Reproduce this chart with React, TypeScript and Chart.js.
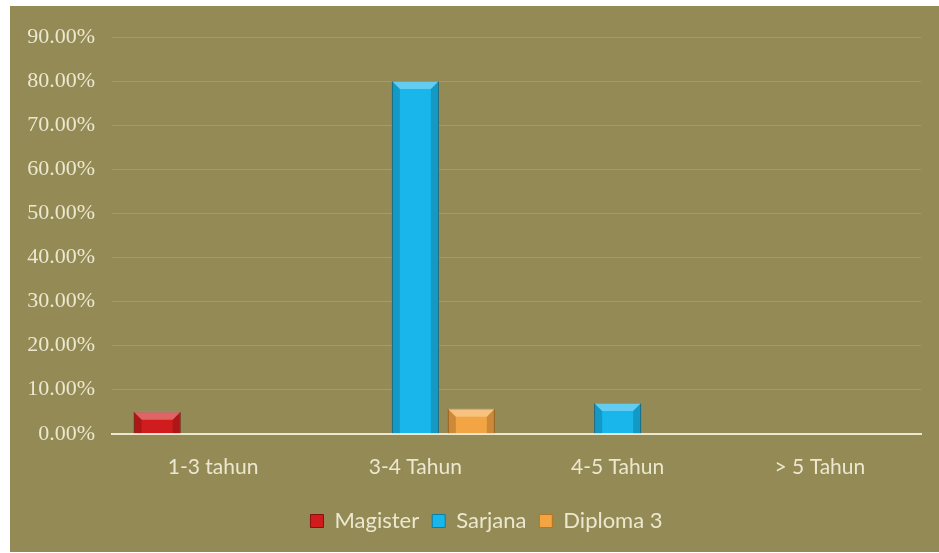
import React, { useEffect, useRef } from "react";
import { Chart, registerables } from "chart.js";

Chart.register(...registerables);

const categories = ["1-3 tahun", "3-4 Tahun", "4-5 Tahun", "> 5 Tahun"];
const magister = [5.0, null, null, null];
const sarjana = [null, 80.0, 7.0, null];
const diploma3 = [null, 5.7, null, null];
const yTicks = [0, 10, 20, 30, 40, 50, 60, 70, 80, 90];

const BG = "#938a55";
const TEXT = "#ece8cf";

const bevelPlugin = {
  id: "bevel",
  afterDatasetsDraw(chart: any) {
    const ctx = chart.ctx;
    chart.data.datasets.forEach((ds: any, i: number) => {
      const meta = chart.getDatasetMeta(i);
      meta.data.forEach((bar: any, j: number) => {
        if (ds.data[j] == null) return;
        const { x, y, base, width } = bar.getProps(["x", "y", "base", "width"], true);
        const l = x - width / 2, r = x + width / 2;
        const h = base - y;
        const b = Math.min(8, h / 2);
        ctx.save();
        ctx.fillStyle = "rgba(255,255,255,0.32)";
        ctx.beginPath();
        ctx.moveTo(l, y); ctx.lineTo(r, y); ctx.lineTo(r - b, y + b); ctx.lineTo(l + b, y + b); ctx.closePath();
        ctx.fill();
        ctx.fillStyle = "rgba(0,0,0,0.16)";
        ctx.beginPath();
        ctx.moveTo(l, y); ctx.lineTo(l + b, y + b); ctx.lineTo(l + b, base); ctx.lineTo(l, base); ctx.closePath();
        ctx.fill();
        ctx.beginPath();
        ctx.moveTo(r, y); ctx.lineTo(r - b, y + b); ctx.lineTo(r - b, base); ctx.lineTo(r, base); ctx.closePath();
        ctx.fill();
        ctx.restore();
      });
    });
  },
};

const legendShift = {
  id: "legendShift",
  afterLayout(chart: any) {
    const lg = chart.legend;
    if (!lg) return;
    lg.left += 21; lg.right += 21;
    lg.top -= 4; lg.bottom -= 4;
  },
};

export default function App() {
  const ref = useRef<HTMLCanvasElement | null>(null);
  useEffect(() => {
    if (!ref.current) return;
    const chart = new Chart(ref.current, {
      type: "bar",
      data: {
        labels: categories,
        datasets: [
          { label: "Magister", data: magister, backgroundColor: "#d01c1c", borderColor: "#8a0f0f", borderWidth: 1 },
          { label: "Sarjana", data: sarjana, backgroundColor: "#18b6ea", borderColor: "#0d7da6", borderWidth: 1 },
          { label: "Diploma 3", data: diploma3, backgroundColor: "#f3a443", borderColor: "#b8741f", borderWidth: 1 },
        ],
      },
      plugins: [bevelPlugin, legendShift],
      options: {
        animation: false,
        responsive: false,
        maintainAspectRatio: false,
        layout: { padding: { top: 31, right: 18, left: 0, bottom: 6 } },
        datasets: { bar: { categoryPercentage: 0.83, barPercentage: 0.84, skipNull: false } },
        plugins: {
          tooltip: { enabled: false },
          legend: {
            position: "bottom",
            labels: {
              color: TEXT,
              font: { family: "Lato", size: 22 },
              boxWidth: 13,
              boxHeight: 13,
              padding: 13,
            },
          },
        },
        scales: {
          x: {
            grid: { display: false, drawTicks: false },
            border: { display: true, color: TEXT, width: 2 },
            ticks: { color: TEXT, font: { family: "Lato", size: 21 }, padding: 21 },
          },
          y: {
            min: 0,
            max: 90,
            afterBuildTicks: (s: any) => { s.ticks = yTicks.map((v) => ({ value: v })); },
            afterFit: (s: any) => { s.width = 102; },
            grid: { color: "rgba(255,255,235,0.14)", drawTicks: false },
            border: { display: false },
            ticks: {
              color: TEXT,
              font: { family: "Liberation Serif", size: 22 },
              padding: 17,
              callback: (v: any) => Number(v).toFixed(2) + "%",
            },
          },
        },
      },
    });
    return () => chart.destroy();
  }, []);
  return (
    <div style={{ position: "absolute", left: 0, top: 0, width: 939, height: 553, background: "#fff" }}>
      <div style={{ position: "absolute", left: 10, top: 6, width: 929, height: 546, background: BG }}>
        <canvas ref={ref} width={929} height={546} style={{ display: "block" }} />
      </div>
    </div>
  );
}
